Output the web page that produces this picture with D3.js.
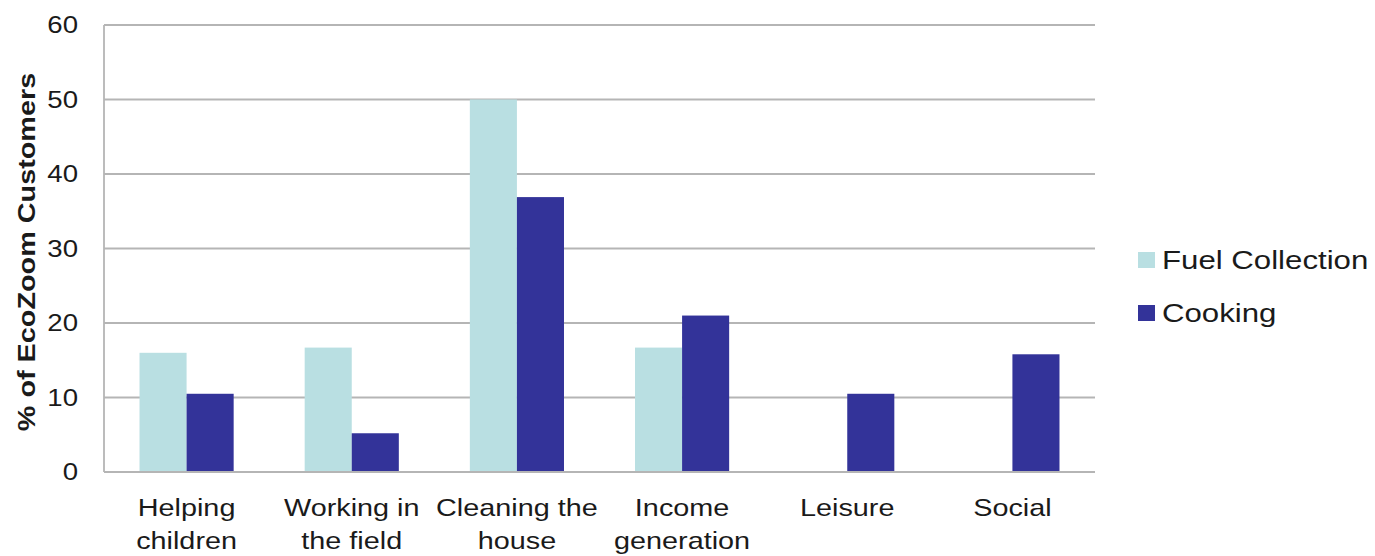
<!DOCTYPE html>
<html>
<head>
<meta charset="utf-8">
<script src="https://cdn.jsdelivr.net/npm/d3@7/dist/d3.min.js"></script>
<style>
  html, body { margin: 0; padding: 0; background: #fff; }
  svg text { font-family: "Liberation Sans", Arial, sans-serif; fill: #1a1a1a; }
</style>
</head>
<body>
<svg id="chart" width="1375" height="556"></svg>
<script>
// Activities shown on the x axis (two-line labels)
const categories = ["Helping children", "Working in the field", "Cleaning the house", "Income generation", "Leisure", "Social"];
const categoryLines = [["Helping", "children"], ["Working in", "the field"], ["Cleaning the", "house"], ["Income", "generation"], ["Leisure"], ["Social"]];

// Percentage of customers reporting each use of saved time
const seriesNames = ["Fuel Collection", "Cooking"];
const fuelCollection = [16, 16.7, 50, 16.7, 0, 0];
const cooking = [10.5, 5.2, 36.9, 21, 10.5, 15.8];

const yTicks = [0, 10, 20, 30, 40, 50, 60];
const yTitle = "% of EcoZoom Customers";

const colors = { "Fuel Collection": "#b9dfe2", "Cooking": "#333399" };
const stretch = 1.2; // horizontal text widening

const svg = d3.select("#chart");
const plot = { left: 104, right: 1095, top: 25, bottom: 472 };

const x0 = d3.scaleBand().domain(categories).range([plot.left, plot.right]).paddingInner(0.43).paddingOuter(0.215);
const x1 = d3.scaleBand().domain(seriesNames).range([0, x0.bandwidth()]);
const y = d3.scaleLinear().domain([0, 60]).range([plot.bottom, plot.top]);

// Horizontal gridlines
svg.append("g").selectAll("line").data(yTicks).join("line")
  .attr("x1", plot.left).attr("x2", plot.right)
  .attr("y1", d => y(d)).attr("y2", d => y(d))
  .attr("stroke", "#b5b5b5").attr("stroke-width", 1.8);

// Left axis line
svg.append("line")
  .attr("x1", plot.left).attr("x2", plot.left)
  .attr("y1", y(60)).attr("y2", y(0))
  .attr("stroke", "#b5b5b5").attr("stroke-width", 1.8);

// Bars
const rows = categories.map((c, i) => ({ cat: c, vals: [
  { s: "Fuel Collection", v: fuelCollection[i] },
  { s: "Cooking", v: cooking[i] }
]}));

svg.append("g").selectAll("g").data(rows).join("g")
  .attr("transform", d => `translate(${x0(d.cat)},0)`)
  .selectAll("rect").data(d => d.vals.filter(e => e.v > 0)).join("rect")
  .attr("x", d => x1(d.s)).attr("width", x1.bandwidth())
  .attr("y", d => y(d.v)).attr("height", d => y(0) - y(d.v))
  .attr("fill", d => colors[d.s]);

// Redraw the baseline over the bars
svg.append("line")
  .attr("x1", plot.left).attr("x2", plot.right)
  .attr("y1", y(0)).attr("y2", y(0))
  .attr("stroke", "#b5b5b5").attr("stroke-width", 1.8);

// Y tick labels
svg.append("g").selectAll("text").data(yTicks).join("text")
  .attr("transform", d => `translate(78,${y(d)}) scale(${stretch},1)`)
  .attr("text-anchor", "end").attr("dy", "0.35em")
  .attr("font-size", 23)
  .text(d => d);

// Y axis title
svg.append("text")
  .attr("transform", `translate(35,252) rotate(-90) scale(${stretch},1)`)
  .attr("text-anchor", "middle")
  .attr("font-size", 24).attr("font-weight", "bold")
  .text(yTitle);

// Category labels
const catG = svg.append("g").selectAll("g").data(categories).join("g")
  .attr("transform", d => `translate(${x0(d) + x0.bandwidth() / 2},516) scale(${stretch},1)`);
catG.selectAll("text").data((d, i) => categoryLines[i]).join("text")
  .attr("text-anchor", "middle")
  .attr("y", (d, j) => j * 33)
  .attr("font-size", 24)
  .text(d => d);

// Legend
const legend = svg.append("g").selectAll("g").data(seriesNames).join("g")
  .attr("transform", (d, i) => `translate(1138,${252 + i * 53})`);
legend.append("rect").attr("width", 17).attr("height", 16).attr("fill", d => colors[d]);
legend.append("text")
  .attr("transform", `translate(24,17) scale(${stretch},1)`)
  .attr("font-size", 26)
  .text(d => d);
</script>
</body>
</html>
